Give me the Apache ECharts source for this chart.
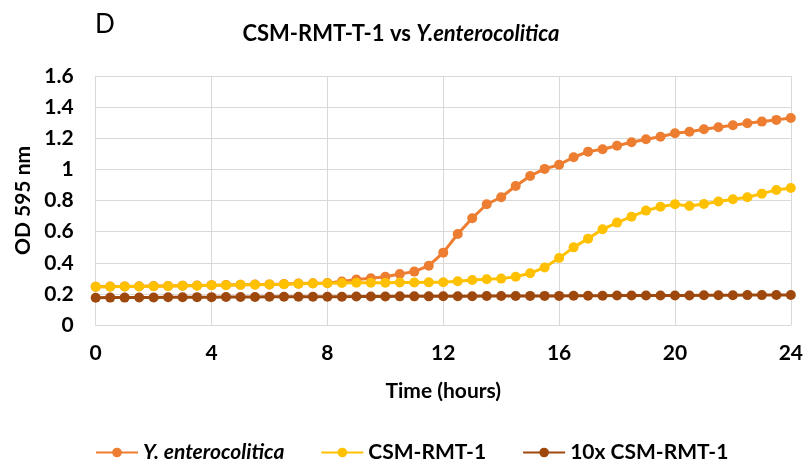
<!DOCTYPE html>
<html>
<head>
<meta charset="utf-8">
<script src="https://cdn.jsdelivr.net/npm/echarts@6/dist/echarts.min.js"></script>
<style>
html,body{margin:0;padding:0;background:#fff;}
#chart{width:806px;height:462px;}
</style>
</head>
<body>
<div id="chart"></div>
<script>
// Time points (hours)
const times = [0,0.5,1,1.5,2,2.5,3,3.5,4,4.5,5,5.5,6,6.5,7,7.5,8,8.5,9,9.5,10,10.5,11,11.5,12,12.5,13,13.5,14,14.5,15,15.5,16,16.5,17,17.5,18,18.5,19,19.5,20,20.5,21,21.5,22,22.5,23,23.5,24];

const seriesNames = ['Y. enterocolitica', 'CSM-RMT-1', '10x CSM-RMT-1'];

const yEnterocolitica = [0.246,0.247,0.248,0.249,0.250,0.251,0.253,0.254,0.256,0.257,0.259,0.260,0.261,0.263,0.266,0.268,0.270,0.280,0.292,0.300,0.310,0.328,0.343,0.381,0.465,0.585,0.686,0.776,0.821,0.893,0.958,1.003,1.030,1.078,1.114,1.129,1.152,1.174,1.193,1.210,1.232,1.242,1.258,1.271,1.284,1.296,1.307,1.318,1.330];

const csmRmt1 = [0.245,0.246,0.247,0.248,0.249,0.250,0.252,0.253,0.255,0.256,0.258,0.259,0.260,0.262,0.265,0.267,0.268,0.270,0.271,0.272,0.272,0.273,0.273,0.274,0.275,0.281,0.289,0.294,0.298,0.310,0.332,0.370,0.430,0.499,0.555,0.615,0.658,0.696,0.735,0.760,0.776,0.765,0.778,0.793,0.808,0.821,0.844,0.868,0.880];

const csmRmt1x10 = [0.175,0.176,0.176,0.177,0.177,0.178,0.178,0.179,0.179,0.180,0.180,0.180,0.181,0.181,0.181,0.182,0.182,0.182,0.183,0.183,0.183,0.184,0.184,0.184,0.185,0.185,0.185,0.186,0.186,0.186,0.187,0.187,0.187,0.188,0.188,0.188,0.189,0.189,0.189,0.190,0.190,0.190,0.191,0.191,0.191,0.192,0.192,0.193,0.193];

const xTicks = [0,4,8,12,16,20,24];
const yTicks = [0,0.2,0.4,0.6,0.8,1,1.2,1.4,1.6];

const colors = ['#ED7D31', '#FFC000', '#9E480E'];
const FONT = 'Lato, "Open Sans", sans-serif';

function pairs(vals){ return times.map((t,i)=>[t, vals[i]]); }

const chart = echarts.init(document.getElementById('chart'), null, {renderer:'canvas'});

const seriesData = [yEnterocolitica, csmRmt1, csmRmt1x10];

chart.setOption({
  animation: false,
  backgroundColor: '#fff',
  title: {
    text: '{b|CSM-RMT-T-1 vs }{i|Y.enterocolitica}',
    left: 396, top: 18, textAlign: 'center',
    textStyle: {
      rich: {
        b: {fontFamily: FONT, fontWeight: 'bold', fontSize: 22, color: '#000'},
        i: {fontFamily: FONT, fontWeight: 'bold', fontStyle: 'italic', fontSize: 22, color: '#000'}
      }
    }
  },
  graphic: [{
    type: 'text', left: 95, top: 12,
    style: {text: 'D', fontFamily: FONT, fontSize: 26, fill: '#000'}
  }],
  grid: {left: 95.7, right: 13.3, top: 76, bottom: 137, containLabel: false},
  xAxis: {
    type: 'value', min: 0, max: 24, interval: 4,
    name: 'Time (hours)', nameLocation: 'middle', nameGap: 56,
    nameTextStyle: {fontFamily: FONT, fontWeight: 'bold', fontSize: 21, color: '#000'},
    axisLine: {show: true, lineStyle: {color: '#d9d9d9', width: 1}},
    axisTick: {show: false},
    splitLine: {show: true, lineStyle: {color: '#d9d9d9', width: 1}},
    axisLabel: {
      margin: 18, fontFamily: FONT, fontWeight: 'bold', fontSize: 21, color: '#000',
      formatter: v => xTicks.includes(v) ? String(v) : ''
    }
  },
  yAxis: {
    type: 'value', min: 0, max: 1.6, interval: 0.2,
    name: 'OD 595 nm', nameLocation: 'middle', nameGap: 60, nameRotate: 90,
    nameTextStyle: {fontFamily: FONT, fontWeight: 'bold', fontSize: 21, color: '#000'},
    axisLine: {show: true, lineStyle: {color: '#d9d9d9', width: 1}},
    axisTick: {show: false},
    splitLine: {show: true, lineStyle: {color: '#d9d9d9', width: 1}},
    axisLabel: {
      margin: 22, fontFamily: FONT, fontWeight: 'bold', fontSize: 21, color: '#000',
      formatter: v => {
        const t = yTicks.find(y => Math.abs(y - v) < 1e-6);
        return t === undefined ? '' : String(t);
      }
    }
  },
  legend: {
    left: 90, top: 437,
    itemWidth: 42, itemHeight: 12, itemGap: 36,
    data: seriesNames,
    formatter: name => name === seriesNames[0] ? '{i|' + name + '}' : '{b|' + name + '}',
    textStyle: {
      rich: {
        i: {fontFamily: FONT, fontWeight: 'bold', fontStyle: 'italic', fontSize: 21, color: '#000'},
        b: {fontFamily: FONT, fontWeight: 'bold', fontSize: 21, color: '#000'}
      }
    }
  },
  series: seriesNames.map((n, i) => ({
    name: n, type: 'line',
    data: pairs(seriesData[i]),
    symbol: 'circle', symbolSize: 10,
    showSymbol: true,
    lineStyle: {color: colors[i], width: 3},
    itemStyle: {color: colors[i]},
    z: 2 + i
  }))
});
</script>
</body>
</html>
